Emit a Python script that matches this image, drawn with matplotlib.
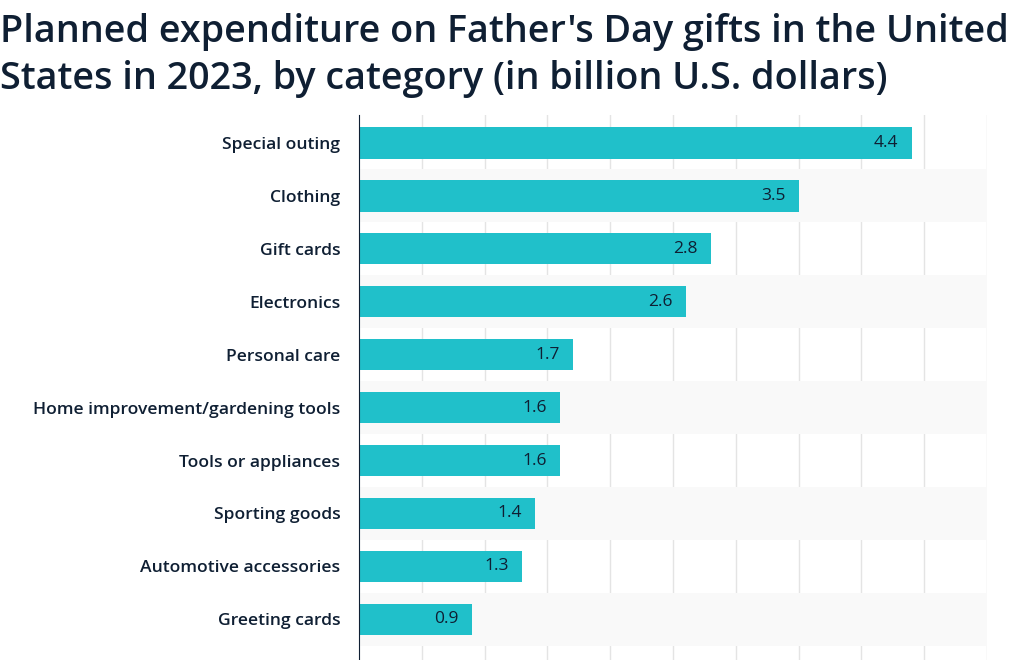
import matplotlib.pyplot as plt
import numpy as np

categories = ["Special outing", "Clothing", "Gift cards", "Electronics", "Personal care",
              "Home improvement/gardening tools", "Tools or appliances", "Sporting goods",
              "Automotive accessories", "Greeting cards"]
values = [4.4, 3.5, 2.8, 2.6, 1.7, 1.6, 1.6, 1.4, 1.3, 0.9]
title = "Planned expenditure on Father's Day gifts in the United\nStates in 2023, by category (in billion U.S. dollars)"

navy = "#0f1f33"
teal = "#20c0ca"

plt.rcParams['font.family'] = ['Open Sans', 'DejaVu Sans']

fig = plt.figure(figsize=(10.24, 6.6), dpi=100)
ax = fig.add_axes([359 / 1024, 0.0, (987 - 359) / 1024, 545 / 660])

ys = np.arange(len(categories))

# alternating background bands
for i in ys:
    if i % 2 == 1:
        ax.axhspan(i - 0.5, i + 0.5, color="#f9f9f9", zorder=1, lw=0)

ax.barh(ys, values, height=0.59, color=teal, zorder=3)

for y, v in zip(ys, values):
    ax.annotate(f"{v}", (v, y), xytext=(-9.5, 0), textcoords="offset points",
                ha="right", va="center", fontsize=12.5,
                color=navy, zorder=4)

ax.set_xlim(0, 5)
ax.set_ylim(9.77, -0.53)
ax.set_xticks(np.arange(0.5, 5.01, 0.5))
ax.xaxis.grid(True, color="#e4e4e4", lw=1, zorder=0)
ax.set_axisbelow(True)
ax.tick_params(axis="x", length=0, labelbottom=False)
ax.tick_params(axis="y", length=0, pad=13.5)
ax.set_yticks(ys)
ax.set_yticklabels(categories, fontsize=12.6, fontweight="semibold", color=navy)
for s in ["top", "right", "bottom"]:
    ax.spines[s].set_visible(False)
ax.spines["left"].set_color(navy)
ax.spines["left"].set_zorder(5)

fig.text(0.0, 0.98, title, ha="left", va="top", fontsize=27.2, fontweight="semibold",
         color=navy, linespacing=1.3)

fig.savefig("out.png", dpi=100)
